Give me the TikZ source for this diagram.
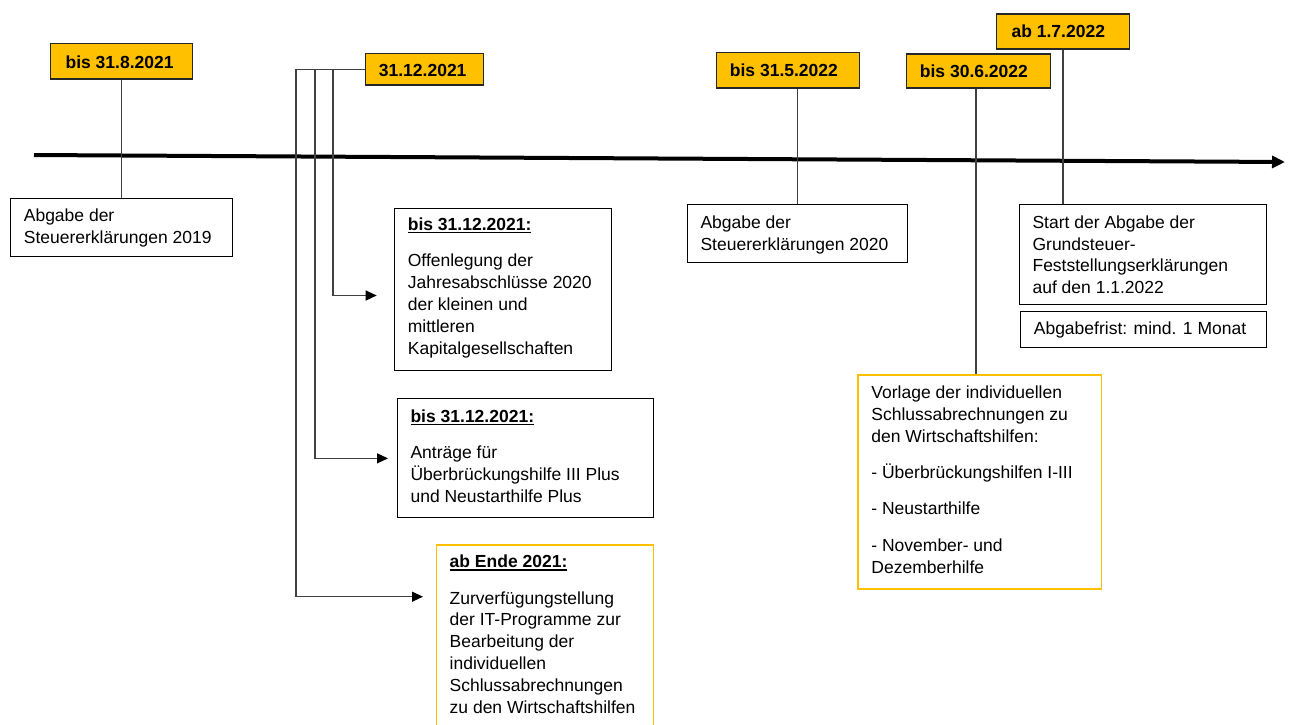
\documentclass[tikz,border=0pt]{standalone}
\usepackage{fontspec}
\setmainfont{Liberation Sans}
\usetikzlibrary{arrows.meta}
\definecolor{gold}{HTML}{FFC000}
\definecolor{lineg}{HTML}{404040}
\definecolor{dborder}{HTML}{262626}
\newcommand\tbox[5]{\parbox[t][#2pt][t]{#1pt}{\raggedright\leftskip=#4pt\relax\lineskiplimit=-100pt\relax\rule{0pt}{#3pt}#5}}
\newcommand\hd[1]{\setbox0=\hbox{\bfseries #1}\rlap{\rule[-2.8pt]{\wd0}{1.1pt}}\box0}
\newcommand\pg{\\[14.5pt]}
\tikzset{
  every node/.style={font=\fontsize{17.5}{21.8}\selectfont, inner sep=0pt, anchor=north west},
  dbox/.style={draw=dborder, fill=gold, line width=1.2pt},
  wbox/.style={draw=black, fill=white, line width=1.1pt},
  obox/.style={draw=gold, fill=white, line width=1.4pt},
  conn/.style={draw=lineg, line width=1.2pt},
  arr/.style={conn, -{Triangle[length=11pt,width=10pt,color=black]}},
  tline/.style={line width=4pt, -{Triangle[length=13pt,width=12pt]}}
}
\begin{document}
\begin{tikzpicture}[x=1pt,y=1pt]
\useasboundingbox (0,0) rectangle (1290,-724);
\clip (0,0) rectangle (1290,-724);
\fill[white] (0,0) rectangle (1290,-724);
% timeline
\coordinate (t0) at (34,-155);
\coordinate (t1) at (1285,-162);
\draw[tline] (t0) -- (t1);
% date boxes
\node[dbox] (d1) at (50,-42.7) {\tbox{142}{35.6}{25}{15}{\textbf{bis 31.8.2021}}};
\node[dbox] (d2) at (365,-52.7) {\tbox{118}{31.6}{23}{13.3}{\textbf{31.12.2021}}};
\node[dbox] (d3) at (715.7,-51.7) {\tbox{143.3}{35.6}{24.3}{13.6}{\textbf{bis 31.5.2022}}};
\node[dbox] (d4) at (905.7,-53.3) {\tbox{144.3}{34}{23.4}{13.6}{\textbf{bis 30.6.2022}}};
\node[dbox] (d5) at (996,-13.3) {\tbox{132.7}{35}{23.4}{15}{\textbf{ab 1.7.2022}}};
% text boxes
\node[wbox] (b1) at (10,-197.7) {\tbox{221.7}{58}{23}{13.3}{Abgabe der\\Steuererklärungen 2019}};
\node[wbox] (b2) at (686.7,-204.3) {\tbox{220.6}{58}{23.4}{13.3}{Abgabe der\\Steuererklärungen 2020}};
\node[wbox] (b3) at (1019,-204) {\tbox{247}{100}{23.7}{13}{Start der Abgabe der\\Grundsteuer-\\Feststellungserklärungen\\auf den 1.1.2022}};
\node[wbox] (b4) at (1020,-311) {\tbox{246}{35.7}{23.3}{13.3}{Abgabefrist: mind. 1 Monat}};
\node[wbox] (b5) at (394.3,-207.7) {\tbox{216.4}{162.3}{22.3}{13}{\hd{bis 31.12.2021:}\pg Offenlegung der\\Jahresabschlüsse 2020\\der kleinen und\\mittleren\\Kapitalgesellschaften}};
\node[wbox] (b6) at (396.7,-398.3) {\tbox{256.6}{119}{23.4}{13.3}{\hd{bis 31.12.2021:}\pg Anträge für\\Überbrückungshilfe III Plus\\und Neustarthilfe Plus}};
\node[obox] (b7) at (436,-544.3) {\tbox{217}{200}{22.7}{13}{\hd{ab Ende 2021:}\pg Zurverfügungstellung\\der IT-Programme zur\\Bearbeitung der\\individuellen\\Schlussabrechnungen\\zu den Wirtschaftshilfen}};
\node[obox] (b8) at (857.3,-374.3) {\tbox{243.4}{214}{23.7}{13.4}{Vorlage der individuellen\\Schlussabrechnungen zu\\den Wirtschaftshilfen:\pg - Überbrückungshilfen I-III\pg - Neustarthilfe\pg - November- und\\Dezemberhilfe}};
% vertical connectors
\draw[conn] (d1.south) -- (d1.south |- b1.north);
\draw[conn] (d3.south -| b2.north) -- (b2.north);
\draw[conn] ([xshift=-2.5pt]d4.south) -- ([xshift=-2.5pt]d4.south |- b8.north);
\draw[conn] (d5.south) -- (d5.south |- b3.north);
% branches from 31.12.2021
\draw[arr] (d2.west) -- ++(-32,0) |- ([shift={(-17.6pt,-6.1pt)}]b5.west);
\draw[arr] (d2.west) -- ++(-50,0) |- ([xshift=-8.7pt]b6.west);
\draw[arr] (d2.west) -- ++(-69,0) |- ([shift={(-13pt,-52.4pt)}]b7.north west);
\end{tikzpicture}
\end{document}
